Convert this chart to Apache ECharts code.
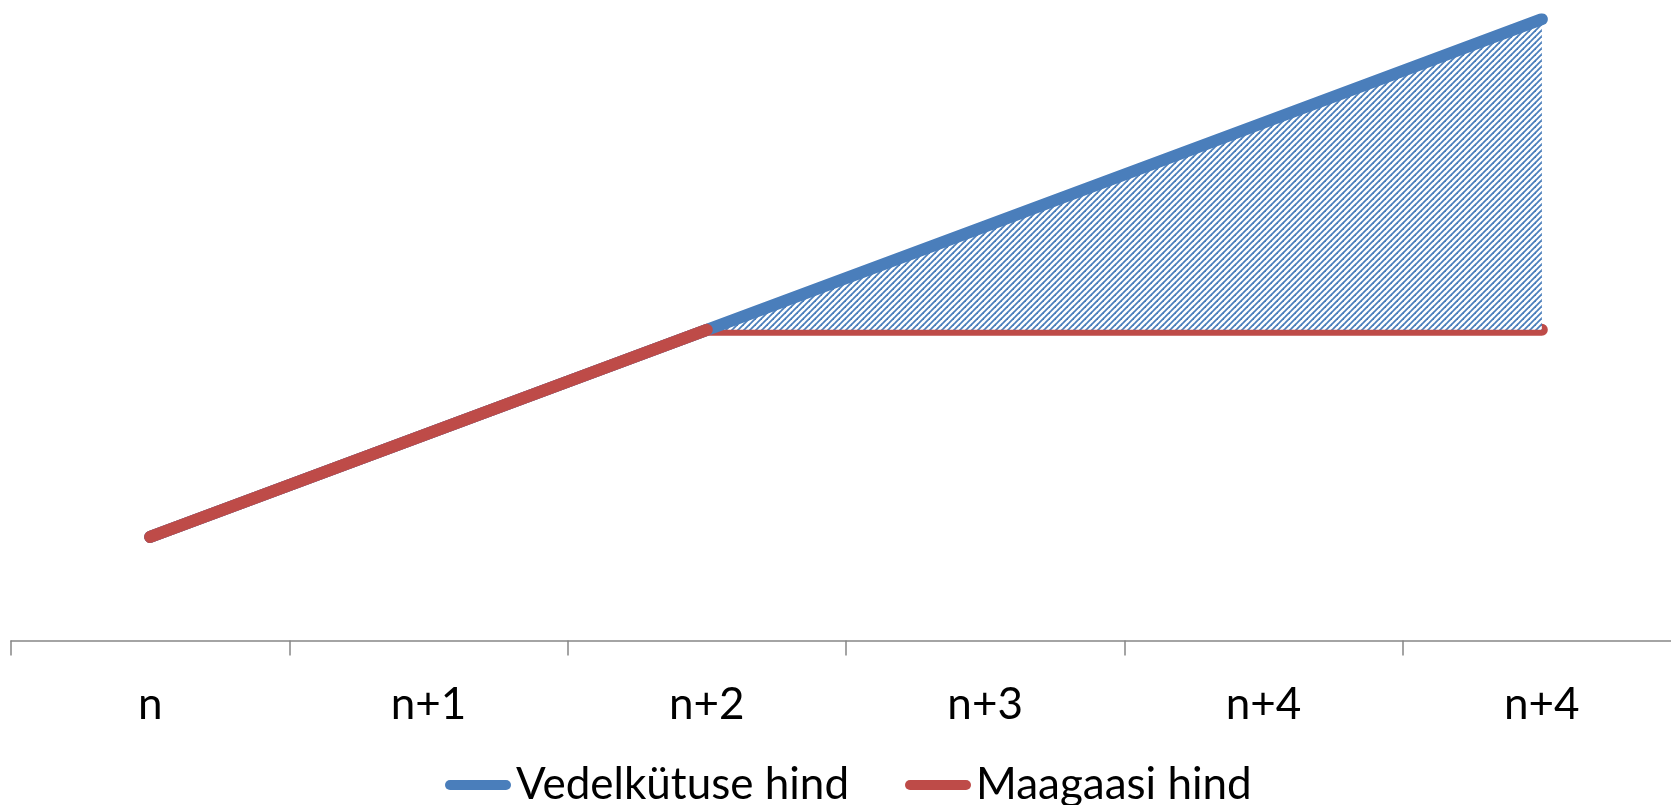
<!DOCTYPE html>
<html>
<head>
<meta charset="utf-8">
<script src="https://cdn.jsdelivr.net/npm/echarts@6/dist/echarts.min.js"></script>
<style>
  html, body { margin: 0; padding: 0; background: #fff; }
  #chart { width: 1671px; height: 805px; }
</style>
</head>
<body>
<div id="chart"></div>
<script>
const categories = ['n', 'n+1', 'n+2', 'n+3', 'n+4', 'n+4'];
const oilPrice = [1, 2, 3, 4, 5, 6];
const gasPrice = [1, 2, 3, 3, 3, 3];
const splitIndex = 2; // gas price stops following oil price here

const BLUE = '#4a7ebb';
const RED = '#be4b48';
const FONT = 'Lato, "Noto Sans", sans-serif';

// hatched fill: white background with thin "/" blue stripes
function makeHatch() {
    const s = 6;
    const c = document.createElement('canvas');
    c.width = s;
    c.height = s;
    const ctx = c.getContext('2d');
    ctx.fillStyle = '#fff';
    ctx.fillRect(0, 0, s, s);
    ctx.strokeStyle = BLUE;
    ctx.lineWidth = 1.8;
    for (let k = -1; k <= 1; k++) {
        ctx.beginPath();
        ctx.moveTo(k * s - s, s * 2);
        ctx.lineTo(k * s + s * 2, -s);
        ctx.stroke();
    }
    return c;
}

const gapBase = gasPrice.map((v, i) => (i >= splitIndex ? v : null));
const gapSize = oilPrice.map((v, i) => (i >= splitIndex ? v - gasPrice[i] : null));
const gasShared = gasPrice.map((v, i) => (i <= splitIndex ? v : null));

const chart = echarts.init(document.getElementById('chart'));

const lineCommon = {
    type: 'line',
    showSymbol: false,
    symbol: 'none',
    silent: true,
    animation: false,
};

chart.setOption({
    animation: false,
    grid: { left: 11, top: 19.2, width: 1670, height: 621.3, outerBoundsMode: 'none', containLabel: false },
    xAxis: {
        type: 'category',
        data: categories,
        boundaryGap: true,
        axisLine: { lineStyle: { color: '#878787', width: 1.5 } },
        axisTick: { show: true, length: 15, lineStyle: { color: '#878787', width: 1.5 } },
        axisLabel: { margin: 42, fontSize: 44, color: '#000', fontFamily: FONT },
    },
    yAxis: {
        type: 'value',
        min: 0,
        max: 6,
        show: false,
        splitLine: { show: false },
    },
    legend: {
        data: ['Vedelkütuse hind', 'Maagaasi hind'],
        left: 440,
        top: 758,
        itemWidth: 66,
        itemHeight: 10,
        itemGap: 56,
        icon: 'path://M5,0H61A5,5,0,0,1,61,10H5A5,5,0,0,1,5,0Z',
        textStyle: { fontSize: 44, color: '#000', fontFamily: FONT },
    },
    series: [
        Object.assign({}, lineCommon, {
            name: 'Maagaasi hind',
            data: gasPrice,
            color: RED,
            z: 2,
            lineStyle: { color: RED, width: 12, cap: 'round', join: 'round' },
        }),
        Object.assign({}, lineCommon, {
            name: 'gapBase',
            data: gapBase,
            stack: 'gap',
            z: 3,
            lineStyle: { width: 0, opacity: 0 },
        }),
        Object.assign({}, lineCommon, {
            name: 'gapSize',
            data: gapSize,
            stack: 'gap',
            z: 3,
            lineStyle: { width: 0, opacity: 0 },
            areaStyle: { color: { image: makeHatch(), repeat: 'repeat' }, opacity: 1 },
        }),
        Object.assign({}, lineCommon, {
            name: 'Vedelkütuse hind',
            data: oilPrice,
            color: BLUE,
            z: 4,
            lineStyle: { color: BLUE, width: 12, cap: 'round', join: 'round' },
        }),
        Object.assign({}, lineCommon, {
            name: 'gasShared',
            data: gasShared,
            color: RED,
            z: 5,
            lineStyle: { color: RED, width: 12, cap: 'round', join: 'round' },
        }),
    ],
});
</script>
</body>
</html>
